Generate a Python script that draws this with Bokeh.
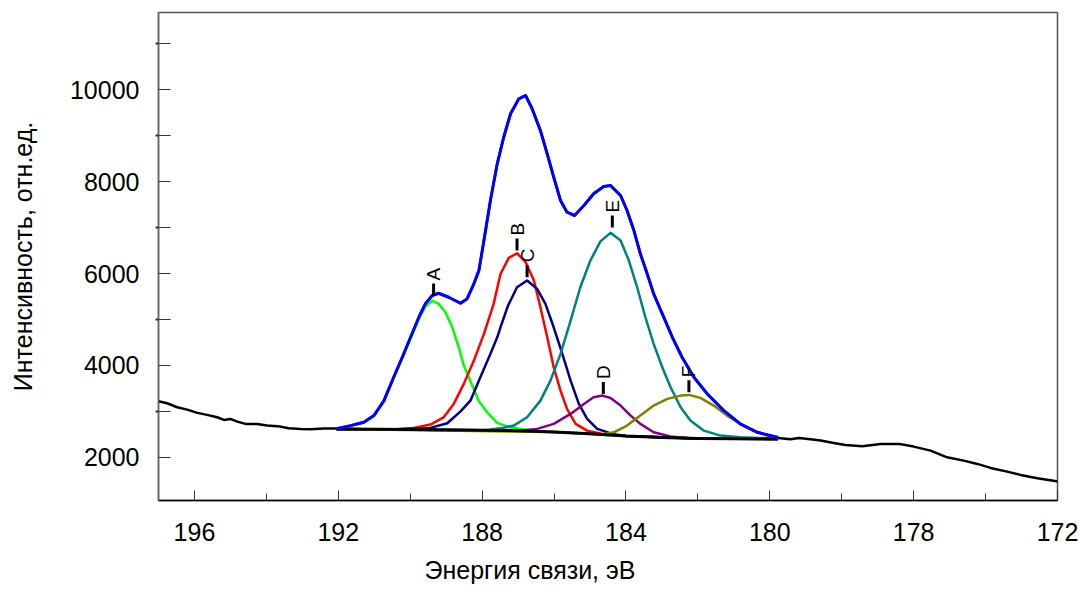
import math
from bokeh.plotting import figure
from bokeh.models import FixedTicker, Range1d, Title
from bokeh.core.properties import value
from bokeh.embed import file_html
from bokeh.resources import INLINE

FONT = "Liberation Sans"

# ---------------- data (binding energy, eV ; intensity, a.u.) ----------------
raw_left_x = [197.0, 196.76, 196.48, 196.20, 195.92, 195.65, 195.37, 195.18, 195.0, 194.81,
              194.58, 194.26, 193.98, 193.61, 193.38, 193.05, 192.77, 192.40, 192.05]
raw_left_y = [3219, 3176, 3089, 3038, 2967, 2923, 2871, 2814, 2836, 2777,
              2727, 2727, 2690, 2668, 2631, 2618, 2610, 2625, 2625]

raw_right_x = [179.77, 179.43, 179.19, 178.87, 178.59, 178.22, 177.90, 177.43, 176.92, 176.41,
               176.00, 175.53, 175.07, 174.61, 174.23, 173.86, 173.40, 173.03, 172.56, 172.03, 172.0]
raw_right_y = [2420, 2395, 2422, 2392, 2364, 2313, 2270, 2240, 2292, 2292,
               2233, 2146, 2000, 1928, 1856, 1769, 1689, 1617, 1543, 1478, 1475]

env_x = [192.05, 191.66, 191.29, 191.01, 190.73, 190.46, 190.22, 189.99, 189.76, 189.58,
         189.39, 189.21, 188.93, 188.60, 188.42, 188.23, 188.09, 187.95, 187.77, 187.58,
         187.40, 187.21, 186.98, 186.79, 186.61, 186.38, 186.19, 186.01, 185.82, 185.64,
         185.43, 185.17, 184.90, 184.62, 184.43, 184.15, 183.97, 183.78, 183.60, 183.41,
         183.23, 182.99, 182.71, 182.44, 182.11, 181.74, 181.28, 180.82, 180.35, 179.77]
env_y = [2620, 2690, 2762, 2908, 3234, 3742, 4177, 4612, 5048, 5339,
         5520, 5570, 5483, 5352, 5448, 5775, 6065, 6718, 7588, 8387,
         8966, 9476, 9802, 9874, 9585, 9112, 8605, 8096, 7588, 7334,
         7262, 7480, 7734, 7893, 7915, 7697, 7371, 6935, 6428, 5993,
         5557, 5122, 4612, 4177, 3742, 3380, 3017, 2727, 2544, 2430]

base_x = [192.05, 190.0, 188.0, 187.0, 186.0, 185.0, 184.0, 183.0, 182.0, 181.0, 179.77]
base_y = [2615, 2605, 2590, 2580, 2550, 2515, 2465, 2430, 2410, 2402, 2400]

a_x = [192.05, 191.66, 191.29, 191.01, 190.73, 190.46, 190.22, 189.99, 189.76, 189.58,
       189.39, 189.21, 189.02, 188.83, 188.65, 188.51, 188.32, 188.09, 187.86, 187.58,
       187.21, 186.9, 186.5, 185.5, 184.0, 182.0, 179.77]
a_y = [2615, 2685, 2755, 2900, 3225, 3730, 4160, 4590, 5010, 5280,
       5411, 5339, 5157, 4830, 4395, 3996, 3650, 3220, 2980, 2750,
       2650, 2610, 2575, 2530, 2465, 2410, 2400]

b_x = [192.05, 190.5, 189.90, 189.44, 189.07, 188.79, 188.51, 188.23, 187.95, 187.68,
       187.49, 187.26, 187.03, 186.79, 186.56, 186.38, 186.19, 186.01, 185.82, 185.64,
       185.40, 185.08, 184.62, 184.0, 182.0, 179.77]
b_y = [2615, 2605, 2640, 2712, 2871, 3162, 3598, 4105, 4686, 5339,
       5990, 6340, 6441, 6245, 5847, 5265, 4612, 3959, 3452, 3054,
       2727, 2581, 2500, 2465, 2410, 2400]

c_x = [192.05, 190.5, 189.44, 188.97, 188.60, 188.32, 188.05, 187.77, 187.58, 187.49,
       187.28, 187.03, 186.75, 186.47, 186.24, 186.01, 185.77, 185.54, 185.31, 185.08,
       184.80, 184.34, 184.0, 182.0, 179.77]
c_y = [2615, 2605, 2640, 2740, 3000, 3240, 3742, 4251, 4612, 4830,
       5300, 5701, 5847, 5666, 5339, 4830, 4251, 3670, 3162, 2836,
       2618, 2500, 2465, 2410, 2400]

e_x = [192.05, 188.0, 187.8, 187.5, 187.12, 186.75, 186.38, 186.10, 185.82, 185.54,
       185.27, 184.99, 184.71, 184.43, 184.15, 183.92, 183.69, 183.46, 183.23, 182.99,
       182.76, 182.48, 182.21, 181.84, 181.37, 180.82, 179.77]
e_y = [2615, 2590, 2600, 2630, 2690, 2871, 3234, 3670, 4251, 4976,
       5701, 6282, 6700, 6885, 6718, 6282, 5701, 5048, 4469, 3959,
       3524, 3089, 2799, 2581, 2472, 2435, 2405]

d_x = [192.05, 188.0, 186.93, 186.47, 186.01, 185.54, 185.17, 184.90, 184.65, 184.43,
       184.15, 183.87, 183.60, 183.23, 182.76, 182.30, 181.0, 179.77]
d_y = [2615, 2590, 2581, 2618, 2727, 2945, 3162, 3306, 3343, 3290,
       3125, 2908, 2727, 2544, 2451, 2422, 2402, 2400]

f_x = [192.05, 186.0, 185.0, 184.71, 184.34, 183.97, 183.60, 183.23, 182.85, 182.48,
       182.25, 181.93, 181.56, 181.19, 180.82, 180.45, 180.07, 179.77]
f_y = [2615, 2550, 2510, 2490, 2544, 2690, 2908, 3125, 3271, 3343,
       3358, 3293, 3125, 2908, 2727, 2581, 2472, 2430]

peak_names = ["A", "B", "C", "D", "E", "F"]
peak_x = [189.35, 187.03, 186.75, 184.63, 184.38, 182.25]
peak_y = [5520, 6500, 5919, 3380, 7000, 3415]

x_ticks = [196, 192, 188, 184, 180, 176, 172]
x_minor = [194, 190, 186, 182, 178, 174]
x_tick_text = {176: "178"}
y_ticks = [2000, 3000, 4000, 5000, 6000, 7000, 8000, 9000, 10000, 11000]
y_labelled = [2000, 4000, 6000, 8000, 10000]

# ---------------- figure ----------------
p = figure(width=1079, height=599, output_backend="svg", toolbar_location=None,
           x_range=Range1d(197, 172), y_range=Range1d(1060, 11680),
           min_border_left=158, min_border_right=22, min_border_top=12,
           min_border_bottom=99)
p.grid.visible = False
p.outline_line_color = "#555555"
p.outline_line_width = 1.5
p.background_fill_color = "white"
p.border_fill_color = "white"

xa = p.xaxis[0]
xa.ticker = FixedTicker(ticks=x_ticks, minor_ticks=x_minor)
xa.major_label_overrides = x_tick_text
xa.major_tick_in = 10
xa.major_tick_out = 0
xa.minor_tick_in = 7
xa.minor_tick_out = 0
xa.axis_line_color = "black"
xa.axis_line_width = 1.5
xa.major_tick_line_color = "#333333"
xa.minor_tick_line_color = "#333333"
xa.major_label_text_font = FONT
xa.major_label_text_font_size = "25px"
xa.major_label_text_color = "black"
xa.major_label_standoff = 22

ya = p.yaxis[0]
ya.ticker = FixedTicker(ticks=y_ticks, minor_ticks=[t for t in y_ticks if t not in y_labelled])
ya.major_label_overrides = {t: "" for t in y_ticks if t not in y_labelled}
ya.major_tick_in = 12
ya.major_tick_out = 0
ya.minor_tick_in = 0
ya.minor_tick_out = 3
ya.axis_line_color = "#666666"
ya.axis_line_width = 1.5
ya.major_tick_line_color = "#333333"
ya.minor_tick_line_color = "#333333"
ya.minor_tick_line_width = 2
ya.major_label_text_font = FONT
ya.major_label_text_font_size = "25px"
ya.major_label_text_color = "black"
ya.major_label_standoff = 16
ya.axis_label = "Интенсивность, отн.ед."
ya.axis_label_text_font = FONT
ya.axis_label_text_font_size = "25px"
ya.axis_label_text_font_style = "normal"
ya.axis_label_text_color = "black"
ya.axis_label_standoff = 30

# x-axis title (left-aligned as in the original, not centred on the frame)
p.add_layout(Title(text="Энергия связи, эВ", align="left", offset=266,
                   text_font=FONT, text_font_size="25px",
                   text_font_style="normal", text_color="black", standoff=20),
             "below")

# ---------------- curves ----------------
raw_x = raw_left_x + env_x + raw_right_x
raw_y = raw_left_y + env_y + raw_right_y
p.line(raw_x, raw_y, line_color="black", line_width=2.5)

comp = [(a_x, a_y, "#00ff00"), (b_x, b_y, "#ff0000"), (c_x, c_y, "#000080"),
        (e_x, e_y, "#008080"), (d_x, d_y, "#800080"), (f_x, f_y, "#808000")]
for cx, cy, col in comp:
    p.line(cx, cy, line_color=col, line_width=2.5, line_join="round")

p.line(base_x, base_y, line_color="black", line_width=3)
p.line(env_x, env_y, line_color="#0000ff", line_width=3, line_join="round")

# peak markers and letters
p.ray(x=peak_x, y=peak_y, length=12, length_units="screen", angle=math.pi / 2,
      line_color="black", line_width=3)
p.text(x=peak_x, y=peak_y, text=peak_names, angle=math.pi / 2, y_offset=-15,
       text_align="left", text_baseline="middle", text_font=value(FONT),
       text_font_size="19px", text_color="black")

open("out.html", "w").write(file_html(p, INLINE))
